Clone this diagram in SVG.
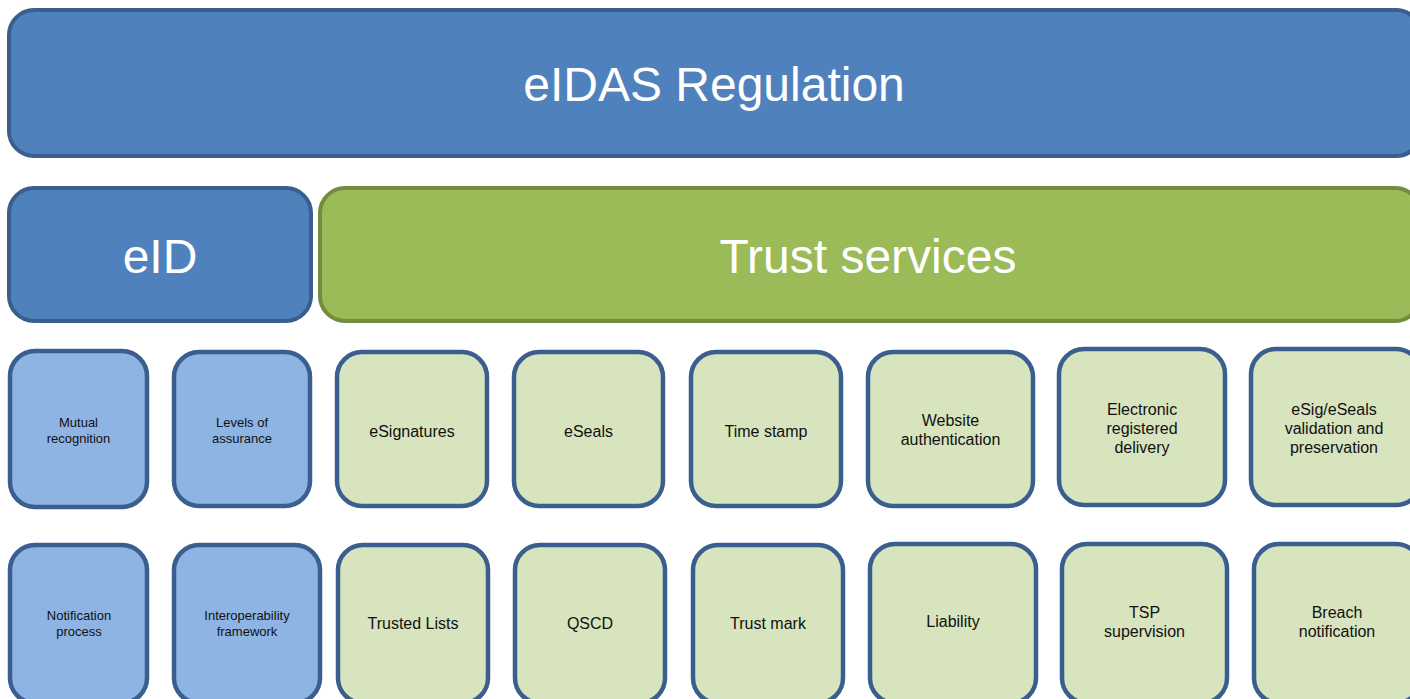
<svg xmlns="http://www.w3.org/2000/svg" width="1410" height="699" viewBox="0 0 1410 699">
<style>
.big{font-family:"Liberation Sans",Arial,sans-serif;font-size:48px;fill:#ffffff;text-anchor:middle}
.s{font-family:"Liberation Sans",Arial,sans-serif;font-size:13px;fill:#111111;text-anchor:middle}
.m{font-family:"Liberation Sans",Arial,sans-serif;font-size:16px;fill:#111111;text-anchor:middle}
.bb{fill:#4f81bd;stroke:#3a5f8e;stroke-width:4}
.gb{fill:#9bbb59;stroke:#738c3e;stroke-width:4}
.sb{fill:#8eb4e3;stroke:#3a5f8e;stroke-width:4.5}
.sg{fill:#d7e4bd;stroke:#3a5f8e;stroke-width:4.5}
</style>
<rect width="1410" height="699" fill="#ffffff"/>
<g id="eidas"><rect class="bb" x="9" y="10" width="1412" height="146" rx="25"/><text class="big" x="714" y="101">eIDAS Regulation</text></g>
<g id="eid"><rect class="bb" x="9" y="188" width="302" height="133" rx="25"/><text class="big" x="160" y="273">eID</text></g>
<g id="trust"><rect class="gb" x="320" y="188" width="1100" height="133" rx="25"/><text class="big" x="868" y="273">Trust services</text></g>

<g id="mutual"><rect class="sb" x="10" y="351" width="137" height="156" rx="25"/><text class="s" x="78.5" y="427">Mutual</text><text class="s" x="78.5" y="443">recognition</text></g>
<g id="levels"><rect class="sb" x="174" y="352" width="136" height="154" rx="25"/><text class="s" x="242" y="427">Levels of</text><text class="s" x="242" y="443">assurance</text></g>
<g id="esignatures"><rect class="sg" x="337" y="352" width="150" height="154" rx="25"/><text class="m" x="412" y="437">eSignatures</text></g>
<g id="eseals"><rect class="sg" x="514" y="352" width="149" height="154" rx="25"/><text class="m" x="588.5" y="437">eSeals</text></g>
<g id="timestamp"><rect class="sg" x="691" y="352" width="150" height="154" rx="25"/><text class="m" x="766" y="437">Time stamp</text></g>
<g id="website"><rect class="sg" x="868" y="352" width="165" height="154" rx="25"/><text class="m" x="950.5" y="426">Website</text><text class="m" x="950.5" y="445">authentication</text></g>
<g id="erd"><rect class="sg" x="1059" y="349" width="166" height="156" rx="25"/><text class="m" x="1142" y="415">Electronic</text><text class="m" x="1142" y="434">registered</text><text class="m" x="1142" y="453">delivery</text></g>
<g id="validation"><rect class="sg" x="1251" y="349" width="170" height="156" rx="25"/><text class="m" x="1334" y="415">eSig/eSeals</text><text class="m" x="1334" y="434">validation and</text><text class="m" x="1334" y="453">preservation</text></g>

<g id="notification"><rect class="sb" x="10" y="545" width="137" height="158" rx="25"/><text class="s" x="79" y="620">Notification</text><text class="s" x="79" y="636">process</text></g>
<g id="interop"><rect class="sb" x="174" y="545" width="146" height="158" rx="25"/><text class="s" x="247" y="620">Interoperability</text><text class="s" x="247" y="636">framework</text></g>
<g id="trustedlists"><rect class="sg" x="338" y="545" width="150" height="158" rx="25"/><text class="m" x="413" y="629">Trusted Lists</text></g>
<g id="qscd"><rect class="sg" x="515" y="545" width="150" height="158" rx="25"/><text class="m" x="590" y="629">QSCD</text></g>
<g id="trustmark"><rect class="sg" x="693" y="545" width="150" height="158" rx="25"/><text class="m" x="768" y="629">Trust mark</text></g>
<g id="liability"><rect class="sg" x="870" y="544" width="166" height="159" rx="25"/><text class="m" x="953" y="627">Liability</text></g>
<g id="tsp"><rect class="sg" x="1062" y="544" width="165" height="159" rx="25"/><text class="m" x="1144.5" y="618">TSP</text><text class="m" x="1144.5" y="637">supervision</text></g>
<g id="breach"><rect class="sg" x="1254" y="544" width="167" height="159" rx="25"/><text class="m" x="1337" y="618">Breach</text><text class="m" x="1337" y="637">notification</text></g>
<g id="connectors"></g>
</svg>
